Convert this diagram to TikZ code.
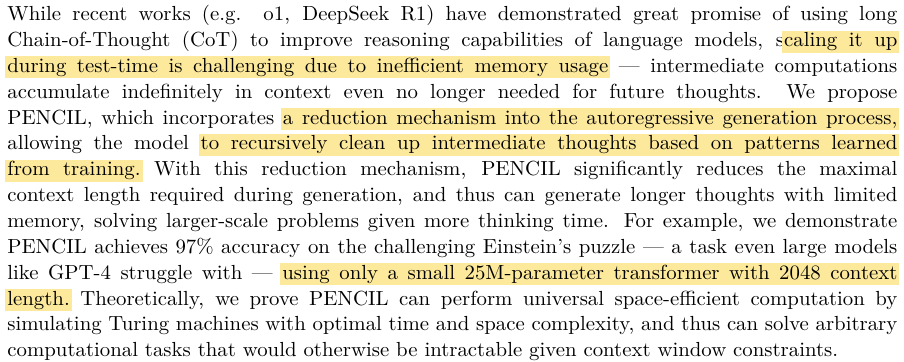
\documentclass[tikz,border=0pt]{standalone}
\usepackage{fontspec}
\setmainfont{lmroman10-regular.otf}[FakeStretch=1.02]
\usepackage{xcolor}
\definecolor{hlyellow}{RGB}{253,233,155}
% one justified line of the abstract, and a highlighted run of words
\newcommand{\absline}[1]{\hbox to \linewidth{\spaceskip=0pt\xspaceskip=0pt\relax #1}}
\newcommand{\abslast}[1]{\hbox to \linewidth{\spaceskip=0pt\xspaceskip=0pt\relax #1\hfil}}
\makeatletter
\newcommand{\hlt}[1]{\kern-1pt\relax\hl@box{\kern1pt}\hl@loop#1 \@nil\hl@box{\kern1pt}\kern-1pt\relax}
\def\hl@box#1{{\setlength{\fboxsep}{0pt}\colorbox{hlyellow}{\rule[-3pt]{0pt}{11pt}#1}}}
\def\hl@gap{{\color{hlyellow}\leaders\vrule height 8pt depth 3pt
  \hskip\fontdimen2\font plus\fontdimen3\font minus\fontdimen4\font}}
\def\hl@loop#1 #2\@nil{\hl@box{#1}\ifx\relax#2\relax\else\hl@gap\hl@loop#2\@nil\fi}
\makeatother
\tikzset{
  abstract/.style={anchor=base west, inner sep=0pt, text width=445pt,
    font=\fontsize{10.2}{12.925}\selectfont}
}
\begin{document}
\begin{tikzpicture}[x=0.5pt, y=-0.5pt]
    \useasboundingbox[fill=white] (0,0) rectangle (904,362);
    \node[abstract] (abstract) at (7,20.7) {%
      \absline{While recent works (e.g. o1, DeepSeek R1) have demonstrated great promise of using long}
      \absline{Chain-of-Thought (CoT) to improve reasoning capabilities of language models, s\hlt{caling it up}}
      \absline{\hlt{during test-time is challenging due to inefficient memory usage} --- intermediate computations}
      \absline{accumulate indefinitely in context even no longer needed for future thoughts. We propose}
      \absline{PENCIL, which incorporates \hlt{a reduction mechanism into the autoregressive generation process,}}
      \absline{allowing the model \hlt{to recursively clean up intermediate thoughts based on patterns learned}}
      \absline{\hlt{from training.} With this reduction mechanism, PENCIL significantly reduces the maximal}
      \absline{context length required during generation, and thus can generate longer thoughts with limited}
      \absline{memory, solving larger-scale problems given more thinking time. For example, we demonstrate}
      \absline{PENCIL achieves 97\% accuracy on the challenging Einstein's puzzle --- a task even large models}
      \absline{like GPT-4 struggle with --- \hlt{using only a small 25M-parameter transformer with 2048 context}}
      \absline{\hlt{length.} Theoretically, we prove PENCIL can perform universal space-efficient computation by}
      \absline{simulating Turing machines with optimal time and space complexity, and thus can solve arbitrary}
      \abslast{computational tasks that would otherwise be intractable given context window constraints.}
    };
\end{tikzpicture}
\end{document}
